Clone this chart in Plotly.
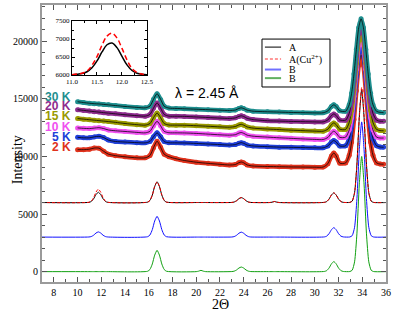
import plotly.graph_objects as go

# ---------------- data ----------------
# calculated patterns (shared 2theta grid)
calc_x = [7.0,
          10.95, 11.15, 11.35, 11.55, 11.75, 11.95, 12.15, 12.35, 12.55,
          15.9, 16.1, 16.3, 16.5, 16.7, 16.9, 17.1, 17.3, 17.5,
          20.0, 20.2, 20.4, 20.6, 20.8,
          23.0, 23.2, 23.4, 23.6, 23.8, 24.0, 24.2, 24.4, 24.6,
          26.2, 26.4, 26.6, 26.8, 27.0,
          30.8, 31.0, 31.2, 31.4, 31.6, 31.8, 32.0, 32.2, 32.4,
          32.95, 33.15, 33.35, 33.55, 33.75, 33.95, 34.15, 34.35, 34.55, 34.75, 34.95,
          36.0]

calc_B_green = [0,
                0, 0, 0, 0, 0, 0, 0, 0, 0,
                31, 187, 668, 1434, 1850, 1434, 668, 187, 31,
                0, 40, 110, 40, 0,
                7, 40, 144, 310, 400, 310, 144, 40, 7,
                0, 0, 0, 0, 0,
                15, 88, 314, 674, 870, 674, 314, 88, 15,
                10, 124, 850, 3340, 7600, 10000, 7600, 3340, 850, 124, 10,
                0]

calc_B_blue = [3000,
               3008, 3045, 3162, 3349, 3450, 3349, 3162, 3045, 3008,
               3031, 3182, 3650, 4395, 4800, 4395, 3650, 3182, 3031,
               3000, 3000, 3000, 3000, 3000,
               3007, 3043, 3155, 3333, 3430, 3333, 3155, 3043, 3007,
               3000, 3000, 3000, 3000, 3000,
               3014, 3083, 3296, 3636, 3820, 3636, 3296, 3083, 3014,
               3010, 3124, 3850, 6340, 10600, 13000, 10600, 6340, 3850, 3124, 3010,
               3000]

calc_A_cu = [6000,
             6020, 6117, 6419, 6899, 7160, 6899, 6419, 6117, 6020,
             6031, 6182, 6650, 7395, 7800, 7395, 6650, 6182, 6031,
             6000, 6000, 6000, 6000, 6000,
             6007, 6043, 6155, 6333, 6430, 6333, 6155, 6043, 6007,
             6000, 6030, 6090, 6030, 6000,
             6014, 6085, 6303, 6651, 6840, 6651, 6303, 6085, 6014,
             6010, 6124, 6850, 9340, 13600, 16000, 13600, 9340, 6850, 6124, 6010,
             6000]

calc_A = [6000,
          6015, 6090, 6321, 6690, 6890, 6690, 6321, 6090, 6015,
          6031, 6182, 6650, 7395, 7800, 7395, 6650, 6182, 6031,
          6000, 6000, 6000, 6000, 6000,
          6007, 6043, 6155, 6333, 6430, 6333, 6155, 6043, 6007,
          6000, 6030, 6090, 6030, 6000,
          6014, 6085, 6303, 6651, 6840, 6651, 6303, 6085, 6014,
          6010, 6124, 6850, 9340, 13400, 15800, 13400, 9340, 6850, 6124, 6010,
          6000]

# measured patterns (shared 2theta grid)
exp_x = [10.0, 10.5, 11.0, 11.4, 11.8, 12.2, 12.6, 13.2, 14.0, 15.0,
         15.7, 16.1, 16.4, 16.7, 17.0, 17.3, 17.7, 18.3, 19.0, 20.0,
         21.0, 22.0, 22.8, 23.3, 23.6, 23.8, 24.0, 24.3, 24.8, 26.0,
         27.0, 28.0, 29.0, 30.0, 30.7, 31.1, 31.4, 31.6, 31.8, 32.1,
         32.6, 32.9, 33.1, 33.3, 33.5, 33.7, 33.9, 34.1, 34.3, 34.5,
         34.7, 34.9, 35.2, 35.5, 35.8]

exp_2K = [10590, 10590, 10630, 10730, 10720, 10450, 10200, 10070, 9970, 9880,
          9880, 10080, 10760, 11320, 10800, 10200, 9980, 9800, 9650, 9500,
          9400, 9320, 9260, 9300, 9460, 9520, 9450, 9260, 9170, 9130,
          9110, 9090, 9080, 9070, 9080, 9370, 10050, 10300, 10050, 9420,
          9440, 10110, 11260, 13200, 15700, 17910, 18800, 17910, 15700, 13200,
          11260, 10110, 9440, 9340, 9330]

exp_5K = [11660, 11620, 11620, 11700, 11750, 11640, 11420, 11300, 11250, 11200,
          11180, 11300, 11710, 12050, 11710, 11290, 11190, 11180, 11170, 11130,
          11080, 11030, 10990, 11030, 11150, 11200, 11140, 10990, 10910, 10850,
          10810, 10790, 10770, 10750, 10750, 10910, 11250, 11380, 11250, 10910,
          10930, 11560, 12670, 14530, 16930, 19040, 19900, 19040, 16930, 14530,
          12670, 11560, 10930, 10820, 10800]

exp_10K = [12480, 12440, 12420, 12460, 12500, 12420, 12300, 12230, 12170, 12090,
           12050, 12180, 12660, 13050, 12660, 12180, 12060, 12050, 12040, 12000,
           11940, 11880, 11850, 11890, 12030, 12080, 12010, 11850, 11760, 11680,
           11620, 11570, 11520, 11480, 11470, 11650, 12040, 12190, 12040, 11660,
           11680, 12310, 13390, 15230, 17580, 19660, 20500, 19660, 17580, 15230,
           13390, 12310, 11680, 11600, 11600]

exp_15K = [13290, 13240, 13190, 13150, 13110, 13070, 13030, 12960, 12860, 12760,
           12720, 12860, 13360, 13770, 13360, 12860, 12730, 12720, 12710, 12670,
           12620, 12570, 12540, 12600, 12740, 12790, 12720, 12560, 12460, 12380,
           12330, 12280, 12240, 12200, 12190, 12370, 12760, 12910, 12760, 12370,
           12350, 12960, 14010, 15790, 18070, 20080, 20900, 20080, 18070, 15790,
           14010, 12960, 12350, 12250, 12230]

exp_20K = [14060, 14000, 13940, 13890, 13850, 13800, 13760, 13700, 13620, 13540,
           13500, 13650, 14200, 14650, 14200, 13650, 13500, 13490, 13480, 13430,
           13380, 13330, 13300, 13350, 13480, 13530, 13470, 13310, 13200, 13100,
           13070, 13040, 13020, 13000, 13000, 13170, 13550, 13690, 13550, 13170,
           13150, 13740, 14770, 16500, 18740, 20700, 21500, 20700, 18740, 16500,
           14770, 13740, 13150, 13060, 13050]

exp_30K = [14750, 14680, 14620, 14580, 14560, 14520, 14480, 14420, 14340, 14260,
           14220, 14370, 14960, 15450, 14950, 14360, 14200, 14170, 14140, 14100,
           14060, 14020, 13990, 14030, 14170, 14220, 14160, 14020, 13930, 13880,
           13850, 13820, 13800, 13780, 13790, 13955, 14340, 14480, 14340, 13960,
           13920, 14490, 15480, 17150, 19290, 21180, 21950, 21180, 19290, 17150,
           15480, 14490, 13920, 13830, 13800]

temp_labels = ["2 K", "5 K", "10 K", "15 K", "20 K", "30 K"]
temp_label_y = [10850, 11720, 12580, 13510, 14380, 15190]
temp_colors = ["#e0321c", "#2040d8", "#f050f0", "#9a9a00", "#8e2b8e", "#1f8f8f"]
exp_series = [exp_2K, exp_5K, exp_10K, exp_15K, exp_20K, exp_30K]

# inset (zoom of the 11.8 deg peak)
inset_x = [11.0, 11.1, 11.2, 11.3, 11.4, 11.5, 11.6, 11.7, 11.8, 11.9,
           12.0, 12.1, 12.2, 12.3, 12.4, 12.5]
inset_A = [6010, 6020, 6040, 6090, 6200, 6390, 6640, 6840, 6890, 6760,
           6520, 6280, 6125, 6050, 6020, 6010]
inset_A_cu = [6010, 6025, 6050, 6110, 6270, 6510, 6830, 7080, 7160, 7030,
              6740, 6420, 6180, 6070, 6025, 6010]

legend_labels = ["A", "A(Cu<sup>2+</sup>)", "B", "B"]
legend_colors = ["#000000", "#ff3030", "#7070ff", "#60b060"]

x_ticks = list(range(8, 37, 2))
y_ticks = [0, 5000, 10000, 15000, 20000]
y_ticktext = ["0", "5000", "10000", "15000", "20000"]
inset_x_ticks = [11.0, 11.5, 12.0, 12.5]
inset_x_ticktext = ["11.0", "11.5", "12.0", "12.5"]
inset_y_ticks = [6000, 6500, 7000, 7500]
inset_y_ticktext = ["6000", "6500", "7000", "7500"]

# ---------------- figure ----------------
SERIF = "Liberation Serif, Times New Roman, serif"
SANS = "Liberation Sans, Arial, sans-serif"

fig = go.Figure()

for ys, col in zip(exp_series, temp_colors):
    fig.add_trace(go.Scatter(x=exp_x, y=ys, mode="lines+markers",
                             line=dict(color=col, width=4.5, shape="spline", smoothing=0.7),
                             marker=dict(color=col, size=5),
                             showlegend=False, hoverinfo="skip"))
    fig.add_trace(go.Scatter(x=exp_x, y=ys, mode="lines",
                             line=dict(color="rgba(0,0,0,0.75)", width=1, shape="spline", smoothing=0.7),
                             showlegend=False, hoverinfo="skip"))

calc_styles = [
    (calc_B_green, "#10a010", None),
    (calc_B_blue, "#1010ff", None),
    (calc_A, "#000000", None),
    (calc_A_cu, "#ff0000", "3px,2px"),
]
for ys, col, dash in calc_styles:
    fig.add_trace(go.Scatter(x=calc_x, y=ys, mode="lines",
                             line=dict(color=col, width=1, dash=dash, shape="spline", smoothing=0.6),
                             showlegend=False, hoverinfo="skip"))

# inset traces
fig.add_trace(go.Scatter(x=inset_x, y=inset_A, mode="lines", xaxis="x2", yaxis="y2",
                         line=dict(color="#000000", width=1.5, shape="spline"),
                         showlegend=False, hoverinfo="skip"))
fig.add_trace(go.Scatter(x=inset_x, y=inset_A_cu, mode="lines", xaxis="x2", yaxis="y2",
                         line=dict(color="#ff0000", width=1.5, dash="5px,3px", shape="spline"),
                         showlegend=False, hoverinfo="skip"))

annotations = []
for lab, yv, col in zip(temp_labels, temp_label_y, temp_colors):
    annotations.append(dict(x=9.6, y=yv, xref="x", yref="y", text="<b>%s</b>" % lab,
                            showarrow=False, xanchor="right", yanchor="middle",
                            font=dict(family=SANS, size=12, color=col)))
annotations.append(dict(x=20.9, y=15510, xref="x", yref="y", text="λ = 2.45 Å",
                        showarrow=False, font=dict(family=SANS, size=14, color="black")))
# axis titles
annotations.append(dict(x=-0.1, y=0.44, xref="paper", yref="paper", text="Intensity",
                        textangle=-90, showarrow=False,
                        font=dict(family=SERIF, size=14, color="black")))
annotations.append(dict(x=0.52, y=-0.08, xref="paper", yref="paper", text="2Θ",
                        showarrow=False, yanchor="middle",
                        font=dict(family=SERIF, size=14, color="black")))

# manual legend
shapes = [dict(type="rect", xref="paper", yref="paper", x0=0.6395, x1=0.8372,
               y0=0.704, y1=0.877, line=dict(color="black", width=1), fillcolor="white",
               layer="above")]
leg_y = [0.848, 0.805, 0.767, 0.736]
leg_dash = ["solid", "3px,2px", "solid", "solid"]
leg_w = [1, 1, 2, 2]
for lab, col, yy, ds, w in zip(legend_labels, legend_colors, leg_y, leg_dash, leg_w):
    shapes.append(dict(type="line", xref="paper", yref="paper", x0=0.648, x1=0.695,
                       y0=yy, y1=yy, line=dict(color=col, width=w, dash=ds), layer="above"))
    annotations.append(dict(x=0.713, y=yy, xref="paper", yref="paper", text=lab,
                            showarrow=False, xanchor="left", yanchor="middle",
                            font=dict(family=SERIF, size=10, color="black")))

axis_common = dict(showline=True, linecolor="#9a9a9a", linewidth=2, mirror="ticks",
                   ticks="inside", ticklen=5, tickcolor="#555555", tickwidth=1,
                   showgrid=False, zeroline=False,
                   tickfont=dict(family=SERIF, size=10, color="black"))

fig.update_layout(
    width=398, height=313,
    margin=dict(l=42, r=12, t=5, b=31, autoexpand=False),
    paper_bgcolor="white", plot_bgcolor="white",
    showlegend=False,
    xaxis=dict(range=[7, 36], tickvals=x_ticks,
               minor=dict(ticks="inside", ticklen=3, dtick=1, tick0=7, tickcolor="#555555"),
               **axis_common),
    yaxis=dict(range=[-900, 23150], tickvals=y_ticks, ticktext=y_ticktext,
               minor=dict(ticks="inside", ticklen=3, dtick=1000, tick0=0, tickcolor="#555555"),
               **axis_common),
    xaxis2=dict(domain=[0.0872, 0.3052], anchor="y2", range=[11.0, 12.5],
                tickvals=inset_x_ticks, ticktext=inset_x_ticktext,
                showline=True, linecolor="black", linewidth=1, mirror="ticks",
                ticks="inside", ticklen=3, tickcolor="black", showgrid=False, zeroline=False,
                minor=dict(ticks="inside", ticklen=2, dtick=0.25, tickcolor="black"),
                tickfont=dict(family=SERIF, size=7, color="black")),
    yaxis2=dict(domain=[0.7473, 0.9422], anchor="x2", range=[6000, 7500],
                tickvals=inset_y_ticks, ticktext=inset_y_ticktext,
                showline=True, linecolor="black", linewidth=1, mirror="ticks",
                ticks="inside", ticklen=3, tickcolor="black", showgrid=False, zeroline=False,
                minor=dict(ticks="inside", ticklen=2, dtick=250, tickcolor="black"),
                tickfont=dict(family=SERIF, size=7, color="black")),
    annotations=annotations,
    shapes=shapes,
)

fig.write_html("out.html", config={"displayModeBar": False},
               post_script="document.body.style.margin='0px';document.body.style.overflow='hidden';")
